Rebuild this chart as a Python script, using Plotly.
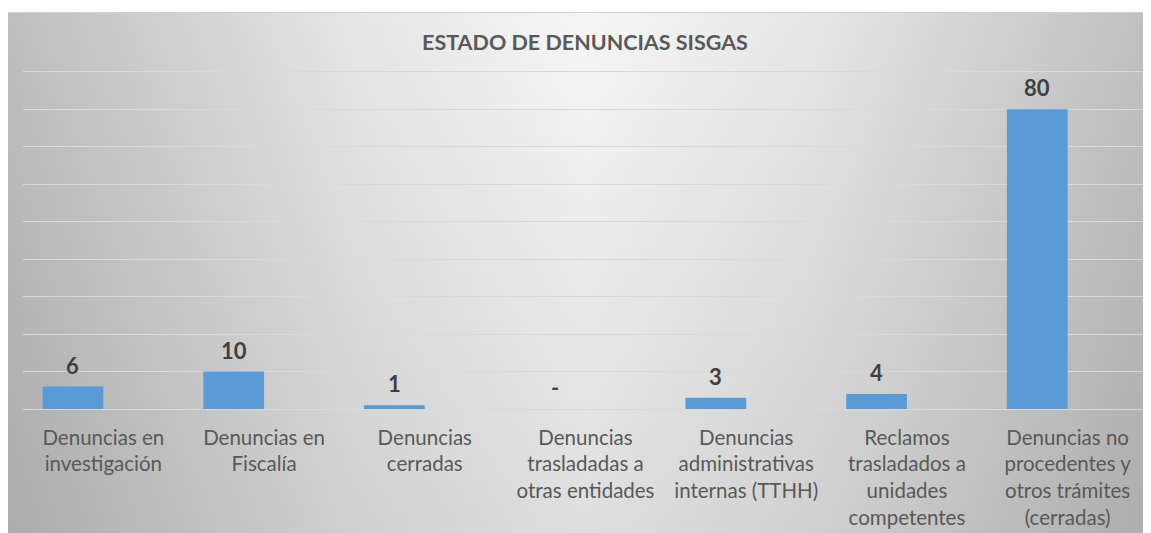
import base64

import plotly.graph_objects as go

# data
categorias = ['Denuncias en<br>investigación',
              'Denuncias en<br>Fiscalía',
              'Denuncias<br>cerradas',
              'Denuncias<br>trasladadas a<br>otras entidades',
              'Denuncias<br>administrativas<br>internas (TTHH)',
              'Reclamos<br>trasladados a<br>unidades<br>competentes',
              'Denuncias no<br>procedentes y<br>otros trámites<br>(cerradas)']
valores = [6, 10, 1, 0, 3, 4, 80]
etiquetas = ['-' if v == 0 else str(v) for v in valores]

titulo = 'ESTADO DE DENUNCIAS SISGAS'

# the page body has an 8px margin, so the figure is a bit smaller than the window
W, H = 1143, 525
y_max = 91
margin = dict(l=15, r=3, t=60, b=124)
plot_w = W - margin['l'] - margin['r']
plot_h = H - margin['t'] - margin['b']

# gray gradient background like the excel chart style
svg = '''<svg xmlns="http://www.w3.org/2000/svg" width="1156" height="540" viewBox="0 0 1156 540" preserveAspectRatio="none">
<defs>
<linearGradient id="h" x1="0" y1="0" x2="1" y2="0">
<stop offset="0" stop-color="#bebebe"/>
<stop offset="0.3" stop-color="#e6e6e6"/>
<stop offset="0.5" stop-color="#f6f6f6"/>
<stop offset="0.7" stop-color="#e6e6e6"/>
<stop offset="1" stop-color="#bebebe"/>
</linearGradient>
<linearGradient id="v" x1="0" y1="0" x2="0" y2="1">
<stop offset="0" stop-color="#000" stop-opacity="0"/>
<stop offset="1" stop-color="#000" stop-opacity="0.1"/>
</linearGradient>
</defs>
<rect width="1156" height="540" fill="url(#h)"/>
<rect width="1156" height="540" fill="url(#v)"/>
<rect x="0.5" y="0.5" width="1155" height="539" fill="none" stroke="#d0d0d0"/>
</svg>'''
bg_uri = 'data:image/svg+xml;base64,' + base64.b64encode(svg.encode()).decode()

x_idx = list(range(len(categorias)))
bar_w = 0.378

fig = go.Figure()
fig.add_trace(go.Bar(x=x_idx,
                     y=valores,
                     width=bar_w,
                     offset=-bar_w,
                     marker=dict(color='#5B9BD5', line=dict(width=0)),
                     hoverinfo='y'))

for i, (v, t) in enumerate(zip(valores, etiquetas)):
    fig.add_annotation(x=i - bar_w / 2, y=v, text='<b>%s</b>' % t,
                       showarrow=False, xref='x', yref='y',
                       yanchor='bottom', yshift=6,
                       font=dict(family='Lato', size=22, color='#404040'))

fig.update_layout(
    width=W, height=H,
    margin=dict(margin, pad=0),
    paper_bgcolor='white',
    plot_bgcolor='rgba(0,0,0,0)',
    showlegend=False,
    title=dict(text='<b>%s</b>' % titulo,
               x=577 / W, xanchor='center', xref='container',
               y=1 - 34 / H, yanchor='middle', yref='container',
               font=dict(family='Lato', size=21.5, color='#595959')),
    xaxis=dict(range=[-0.5, len(categorias) - 0.5],
               tickmode='array', tickvals=x_idx, ticktext=categorias,
               ticks='outside', ticklen=10, tickcolor='rgba(0,0,0,0)',
               showgrid=False, zeroline=False, showline=False,
               tickfont=dict(family='Lato', size=20.5, color='#595959'),
               tickangle=0),
    yaxis=dict(range=[0, y_max], tickmode='linear', tick0=0, dtick=10,
               showticklabels=False,
               showgrid=True, gridcolor='#d9d9d9', gridwidth=1,
               zeroline=True, zerolinecolor='#d9d9d9', zerolinewidth=1,
               showline=False, ticks=''),
    images=[dict(source=bg_uri, xref='paper', yref='paper',
                 x=-1 / plot_w - margin['l'] / plot_w, sizex=1156 / plot_w,
                 y=1 + (margin['t'] - 4) / plot_h, sizey=540 / plot_h,
                 xanchor='left', yanchor='top', sizing='stretch',
                 layer='below')],
)

fig.write_html('out.html')
